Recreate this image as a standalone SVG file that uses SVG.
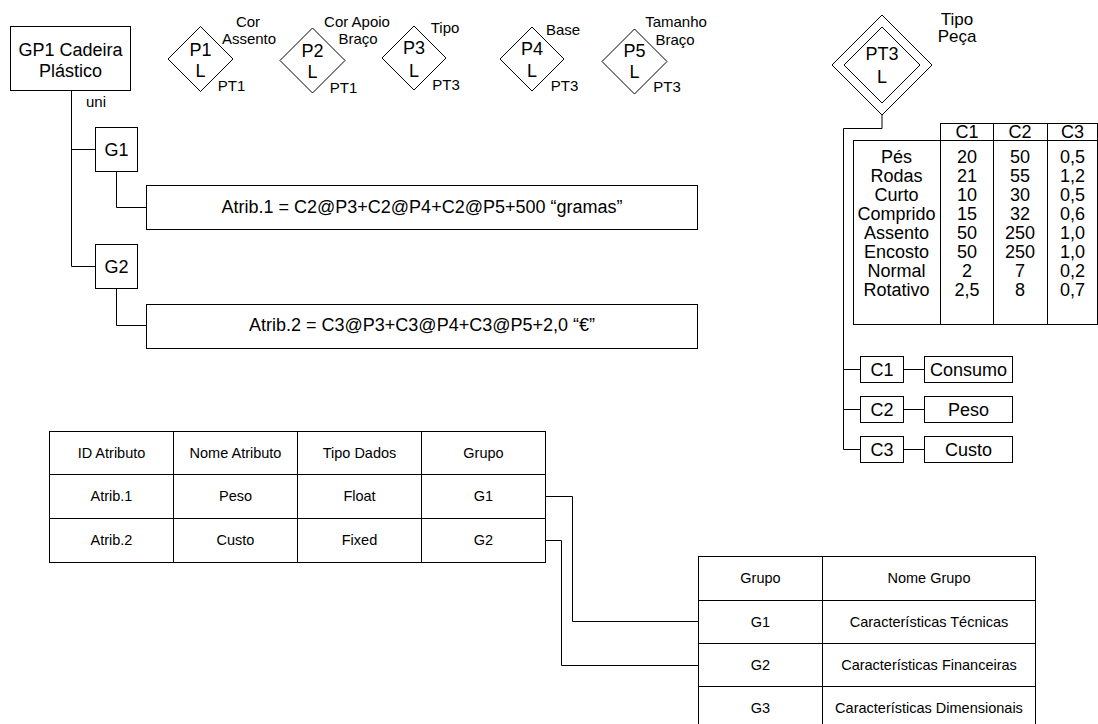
<svg xmlns="http://www.w3.org/2000/svg" width="1098" height="724" viewBox="0 0 1098 724">
  <style>
    text { font-family: "Liberation Sans", Arial, sans-serif; fill: #000; }
    .box { fill: #fff; stroke: #000; stroke-width: 1; }
    .ln { fill: none; stroke: #000; stroke-width: 1; }
    .big { font-size: 18px; text-anchor: middle; }
    .lbl { font-size: 15px; text-anchor: middle; }
    .mid { font-size: 17px; text-anchor: middle; }
    .tbl { font-size: 14.5px; text-anchor: middle; }
  </style>
  <rect width="1098" height="724" fill="#fff"/>

  <!-- connectors -->
  <g id="connectors" class="ln">
    <!-- GP1 trunk to groups -->
    <path d="M71.5 90.5 V266.5 H95.5"/>
    <path d="M71.5 149.5 H95.5"/>
    <path d="M116.5 171.5 V207.5 H146.5"/>
    <path d="M116.5 288.5 V325.5 H146.5"/>
    <!-- PT3 to characteristic columns -->
    <path d="M882 115 V128.5 H843.5 V449.5 H860.5"/>
    <path d="M843.5 369.5 H860.5"/>
    <path d="M843.5 409.5 H860.5"/>
    <path d="M903.5 369.5 H924.5"/>
    <path d="M903.5 409.5 H924.5"/>
    <path d="M903.5 449.5 H924.5"/>
    <!-- attribute table to group table -->
    <path d="M545.5 496.5 H572.5 V621.5 H698.5"/>
    <path d="M545.5 540.5 H561.5 V665.5 H698.5"/>
  </g>

  <!-- product group -->
  <g id="gp1">
    <rect class="box" x="10.5" y="26.5" width="120" height="64"/>
    <text class="big" x="70.5" y="56">GP1 Cadeira</text>
    <text class="big" x="70.5" y="77">Plástico</text>
  </g>
  <text id="uni-label" class="lbl" x="86" y="107" style="text-anchor:start">uni</text>

  <g id="g1">
    <rect class="box" x="95.5" y="127.5" width="42" height="44"/>
    <text class="big" x="116.5" y="156">G1</text>
  </g>
  <g id="g2">
    <rect class="box" x="95.5" y="244.5" width="42" height="44"/>
    <text class="big" x="116.5" y="272.5">G2</text>
  </g>
  <g id="atrib1">
    <rect class="box" x="146.5" y="185.5" width="551" height="44"/>
    <text class="big" x="422" y="213">Atrib.1 = C2@P3+C2@P4+C2@P5+500 “gramas”</text>
  </g>
  <g id="atrib2">
    <rect class="box" x="146.5" y="304.5" width="551" height="44"/>
    <text class="big" x="422" y="331">Atrib.2 = C3@P3+C3@P4+C3@P5+2,0 “€”</text>
  </g>

  <!-- parameters -->
  <g id="p1">
    <polygon class="box" points="200.5,26.5 233,59 200.5,91.5 168,59"/>
    <text class="big" x="200.5" y="56">P1</text>
    <text class="big" x="200.5" y="77">L</text>
    <text class="lbl" x="248" y="27">Cor</text>
    <text class="lbl" x="249" y="44">Assento</text>
    <text class="lbl" x="231.5" y="91">PT1</text>
  </g>
  <g id="p2">
    <polygon class="box" points="312.5,28 345,60.5 312.5,93 280,60.5"/>
    <text class="big" x="312.5" y="57">P2</text>
    <text class="big" x="312.5" y="78">L</text>
    <text class="lbl" x="357" y="27">Cor Apoio</text>
    <text class="lbl" x="358" y="44">Braço</text>
    <text class="lbl" x="343.5" y="93">PT1</text>
  </g>
  <g id="p3">
    <polygon class="box" points="414,26 446,58 414,90 382,58"/>
    <text class="big" x="414" y="54">P3</text>
    <text class="big" x="414" y="77">L</text>
    <text class="lbl" x="445" y="33">Tipo</text>
    <text class="lbl" x="446" y="90">PT3</text>
  </g>
  <g id="p4">
    <polygon class="box" points="532,27 564,59 532,91 500,59"/>
    <text class="big" x="532" y="55">P4</text>
    <text class="big" x="532" y="77">L</text>
    <text class="lbl" x="563" y="35">Base</text>
    <text class="lbl" x="564.5" y="91">PT3</text>
  </g>
  <g id="p5">
    <polygon class="box" points="634.5,29 667,61.5 634.5,94 602,61.5"/>
    <text class="big" x="634.5" y="57">P5</text>
    <text class="big" x="634.5" y="78">L</text>
    <text class="lbl" x="676" y="27">Tamanho</text>
    <text class="lbl" x="675" y="45">Braço</text>
    <text class="lbl" x="667" y="92">PT3</text>
  </g>

  <!-- part type -->
  <g id="pt3">
    <polygon class="box" points="882,15 932,65 882,115 832,65"/>
    <polygon class="box" points="882,27 920,65 882,103 844,65"/>
    <text class="big" x="882" y="60">PT3</text>
    <text class="big" x="882" y="83">L</text>
    <text class="mid" x="957" y="25">Tipo</text>
    <text class="mid" x="957" y="42">Peça</text>
  </g>

  <g id="pt3-table">
    <rect class="box" x="940.5" y="123.5" width="157" height="17"/>
    <rect class="box" x="853.5" y="140.5" width="244" height="184"/>
    <path class="ln" d="M940.5 140.5 V324.5 M993.5 123.5 V324.5 M1047.5 123.5 V324.5"/>
    <g class="big">
      <text x="967" y="138">C1</text><text x="1020" y="138">C2</text><text x="1072.5" y="138">C3</text>
      <text x="896.5" y="163">Pés</text><text x="967" y="163">20</text><text x="1020" y="163">50</text><text x="1072.5" y="163">0,5</text>
      <text x="896.5" y="182">Rodas</text><text x="967" y="182">21</text><text x="1020" y="182">55</text><text x="1072.5" y="182">1,2</text>
      <text x="896.5" y="201">Curto</text><text x="967" y="201">10</text><text x="1020" y="201">30</text><text x="1072.5" y="201">0,5</text>
      <text x="896.5" y="220">Comprido</text><text x="967" y="220">15</text><text x="1020" y="220">32</text><text x="1072.5" y="220">0,6</text>
      <text x="896.5" y="239">Assento</text><text x="967" y="239">50</text><text x="1020" y="239">250</text><text x="1072.5" y="239">1,0</text>
      <text x="896.5" y="258">Encosto</text><text x="967" y="258">50</text><text x="1020" y="258">250</text><text x="1072.5" y="258">1,0</text>
      <text x="896.5" y="277">Normal</text><text x="967" y="277">2</text><text x="1020" y="277">7</text><text x="1072.5" y="277">0,2</text>
      <text x="896.5" y="296">Rotativo</text><text x="967" y="296">2,5</text><text x="1020" y="296">8</text><text x="1072.5" y="296">0,7</text>
    </g>
  </g>

  <g id="c1">
    <rect class="box" x="860.5" y="356.5" width="43" height="26"/>
    <text class="big" x="882" y="375.5">C1</text>
  </g>
  <g id="consumo">
    <rect class="box" x="924.5" y="356.5" width="88" height="26"/>
    <text class="big" x="968.5" y="375.5">Consumo</text>
  </g>
  <g id="c2">
    <rect class="box" x="860.5" y="396.5" width="43" height="26"/>
    <text class="big" x="882" y="415.5">C2</text>
  </g>
  <g id="peso">
    <rect class="box" x="924.5" y="396.5" width="88" height="26"/>
    <text class="big" x="968.5" y="415.5">Peso</text>
  </g>
  <g id="c3">
    <rect class="box" x="860.5" y="436.5" width="43" height="26"/>
    <text class="big" x="882" y="455.5">C3</text>
  </g>
  <g id="custo">
    <rect class="box" x="924.5" y="436.5" width="88" height="26"/>
    <text class="big" x="968.5" y="455.5">Custo</text>
  </g>

  <!-- attribute table -->
  <g id="attr-table">
    <rect class="box" x="49.5" y="431.5" width="496" height="131"/>
    <path class="ln" d="M173.5 431.5 V562.5 M297.5 431.5 V562.5 M421.5 431.5 V562.5 M49.5 474.5 H545.5 M49.5 518.5 H545.5"/>
    <g class="tbl">
      <text x="111.5" y="457.5">ID Atributo</text><text x="235.5" y="457.5">Nome Atributo</text><text x="359.5" y="457.5">Tipo Dados</text><text x="483.5" y="457.5">Grupo</text>
      <text x="111.5" y="501">Atrib.1</text><text x="235.5" y="501">Peso</text><text x="359.5" y="501">Float</text><text x="483.5" y="501">G1</text>
      <text x="111.5" y="545">Atrib.2</text><text x="235.5" y="545">Custo</text><text x="359.5" y="545">Fixed</text><text x="483.5" y="545">G2</text>
    </g>
  </g>

  <!-- group table -->
  <g id="group-table">
    <rect class="box" x="698.5" y="556.5" width="337" height="174"/>
    <path class="ln" d="M822.5 556.5 V730 M698.5 600.5 H1035.5 M698.5 643.5 H1035.5 M698.5 686.5 H1035.5"/>
    <g class="tbl">
      <text x="760.5" y="583">Grupo</text><text x="929" y="583">Nome Grupo</text>
      <text x="760.5" y="627">G1</text><text x="929" y="627">Características Técnicas</text>
      <text x="760.5" y="670">G2</text><text x="929" y="670">Características Financeiras</text>
      <text x="760.5" y="713">G3</text><text x="929" y="713">Características Dimensionais</text>
    </g>
  </g>
</svg>
